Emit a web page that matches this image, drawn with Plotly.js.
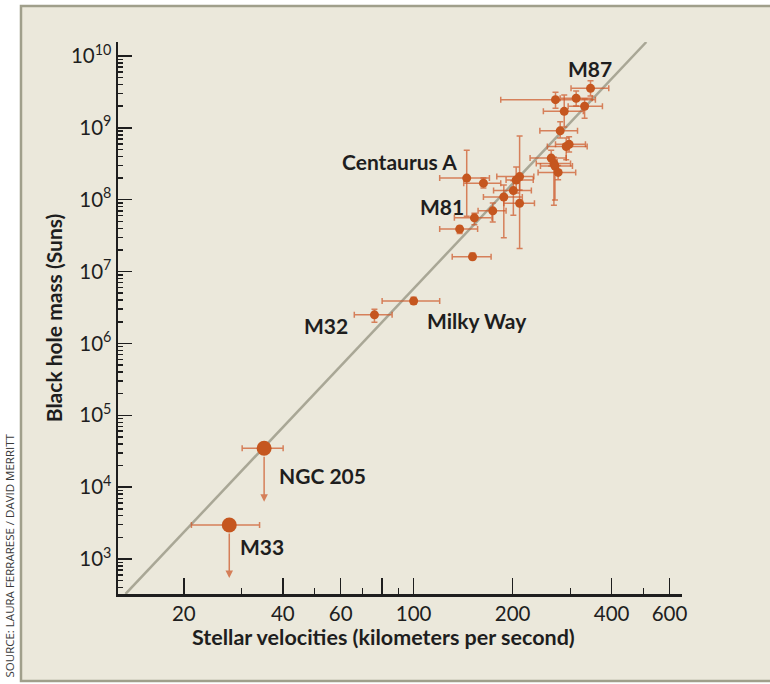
<!DOCTYPE html>
<html>
<head>
<meta charset="utf-8">
<script src="https://cdn.plot.ly/plotly-3.0.1.min.js"></script>
<style>
  html, body { margin: 0; padding: 0; background: #ffffff; }
  #chart { width: 770px; height: 684px; }
</style>
</head>
<body>
<div id="chart"></div>
<script>
// ---- Data ----
// Galaxies with measured black-hole masses
const galaxyNames = ["M87", "", "", "", "", "", "", "", "", "", "", "",
  "Centaurus A", "", "", "", "", "", "", "", "", "M81", "", "Milky Way", "M32"];
const sigma   = [345, 270, 312, 331, 287, 279, 291, 297, 262, 267, 269, 275,
  145, 163, 210, 205, 201, 188, 210, 174, 153, 138, 151, 100, 76];
const sigmaLo = [301, 184, 279, 295, 248, 242, 255, 270, 226, 236, 243, 239,
  120, 142, 179, 191, 175, 163, 188, 157, 133, 120, 131, 80.2, 66];
const sigmaHi = [392, 357, 349, 375, 328, 315, 337, 333, 291, 300, 304, 311,
  170, 184, 232, 231, 228, 214, 233, 191, 173, 156.5, 172, 120, 86];
const mass    = [3.55e9, 2.47e9, 2.58e9, 2.0e9, 1.70e9, 9.1e8, 5.5e8, 5.9e8, 3.8e8, 3.2e8, 2.95e8, 2.4e8,
  2.0e8, 1.7e8, 2.1e8, 1.88e8, 1.34e8, 1.09e8, 8.9e7, 7.0e7, 5.6e7, 3.9e7, 1.61e7, 3.9e6, 2.5e6];
const massLo  = [2.77e9, 1.87e9, 2.01e9, 1.36e9, 1.03e9, 7.2e8, 3.6e8, 4.6e8, 2.95e8, 8.4e7, 9.9e7, 1.9e8,
  5.9e7, 1.46e8, 1.37e8, 1.24e8, 6.1e7, 2.96e7, 2.1e7, 4.9e7, 4.5e7, 3.4e7, 1.47e7, 3.5e6, 1.97e6];
const massHi  = [4.53e9, 3.13e9, 3.26e9, 2.52e9, 2.87e9, 1.22e9, 7.2e8, 7.5e8, 4.9e8, 3.9e8, 3.6e8, 3.0e8,
  4.9e8, 2.0e8, 7.7e8, 2.85e8, 1.84e8, 1.6e8, 1.88e8, 9.0e7, 6.5e7, 4.3e7, 1.81e7, 4.4e6, 2.99e6];

// Galaxies with upper limits only
const limitNames   = ["NGC 205", "M33"];
const limitSigma   = [35.1, 27.5];
const limitSigmaLo = [30.1, 21.1];
const limitSigmaHi = [40.1, 34.0];
const limitMass    = [3.47e4, 2.97e3];
const limitMassTo  = [6.27e3, 544];

// Best-fit relation (end points)
const fitSigma = [13.3, 510];
const fitMass  = [326, 1.567e10];

// Axis ticks
const xTickVals  = [20, 40, 60, 80, 100, 200, 400, 600];
const xTickText  = ["20", "40", "60", "", "100", "200", "400", "600"];
const xMinorVals = [30, 50, 70, 90, 300, 500];
const yTickVals  = [1e3, 1e4, 1e5, 1e6, 1e7, 1e8, 1e9, 1e10];
const yTickText  = ["10<sup>3</sup>", "10<sup>4</sup>", "10<sup>5</sup>", "10<sup>6</sup>",
                    "10<sup>7</sup>", "10<sup>8</sup>", "10<sup>9</sup>", "10<sup>10</sup>"];

// ---- Styles ----
const FONT = "Lato, 'Open Sans', 'DejaVu Sans', sans-serif";
const INK = "#1e1e1e";
const DOT = "#c5561f";
const BAR = "rgba(205,88,40,0.72)";
const LINE = "#a9a796";

// label offsets in pixels relative to the point they name
const labelOffsets = {
  "M87": [-1, 20], "Centaurus A": [-67, 17], "M81": [-18, 23],
  "Milky Way": [63, -20], "M32": [-48, -11], "NGC 205": [58, -27], "M33": [33, -21]
};

const diff = (a, b) => a.map((v, i) => v - b[i]);

const traces = [
  {
    x: fitSigma, y: fitMass, mode: "lines", type: "scatter",
    line: { color: LINE, width: 2.5 }, hoverinfo: "skip", showlegend: false
  },
  {
    x: sigma, y: mass, mode: "markers", type: "scatter", showlegend: false,
    text: galaxyNames,
    marker: { color: DOT, size: 9 },
    error_x: { type: "data", symmetric: false, array: diff(sigmaHi, sigma), arrayminus: diff(sigma, sigmaLo),
               color: BAR, thickness: 1.5, width: 3 },
    error_y: { type: "data", symmetric: false, array: diff(massHi, mass), arrayminus: diff(mass, massLo),
               color: BAR, thickness: 1.5, width: 3 }
  },
  {
    x: limitSigma, y: limitMass, mode: "markers", type: "scatter", showlegend: false,
    text: limitNames,
    marker: { color: DOT, size: 15 },
    error_x: { type: "data", symmetric: false, array: diff(limitSigmaHi, limitSigma), arrayminus: diff(limitSigma, limitSigmaLo),
               color: BAR, thickness: 1.5, width: 3 }
  }
];

const annotations = [];
// upper-limit arrows
limitSigma.forEach((s, i) => {
  annotations.push({
    xref: "x", yref: "y", axref: "x", ayref: "y",
    x: Math.log10(s), y: Math.log10(limitMassTo[i]),
    ax: Math.log10(s), ay: Math.log10(limitMass[i]),
    text: "", showarrow: true, arrowhead: 2, arrowsize: 1, arrowwidth: 1.5,
    arrowcolor: BAR, startstandoff: 7, standoff: 0
  });
});
// galaxy labels
const addLabel = (name, s, m) => {
  if (!name) return;
  const off = labelOffsets[name] || [0, 0];
  annotations.push({
    xref: "x", yref: "y", x: Math.log10(s), y: Math.log10(m),
    xshift: off[0], yshift: off[1], showarrow: false, text: name,
    xanchor: "center", yanchor: "middle",
    font: { family: FONT, size: 21, color: INK, weight: 700 }
  });
};
galaxyNames.forEach((n, i) => addLabel(n, sigma[i], mass[i]));
limitNames.forEach((n, i) => addLabel(n, limitSigma[i], limitMass[i]));
// x-axis title (placed slightly left of centre, as in the original)
annotations.push({
  xref: "paper", yref: "paper", x: 0.4716, y: -0.078, xanchor: "center", yanchor: "middle",
  showarrow: false, text: "Stellar velocities (kilometers per second)",
  font: { family: FONT, size: 21.5, color: INK, weight: 700 }
});
// source credit
annotations.push({
  xref: "paper", yref: "paper", x: -0.193, y: 0.07, xanchor: "center", yanchor: "middle",
  textangle: -90, showarrow: false, text: "SOURCE: LAURA FERRARESE / DAVID MERRITT",
  font: { family: "'Open Sans', sans-serif", size: 11.5, color: "#3a3a3a" }
});

const axisCommon = {
  type: "log", showline: true, linewidth: 2.5, linecolor: INK,
  ticks: "inside", tickwidth: 1.5, tickcolor: INK, tickmode: "array",
  showgrid: false, zeroline: false, automargin: false,
  tickfont: { family: FONT, size: 20.5, color: INK }
};

const layout = {
  width: 770, height: 684,
  margin: { l: 118, r: 88, t: 42, b: 90, pad: 0 },
  paper_bgcolor: "#ffffff", plot_bgcolor: "rgba(0,0,0,0)",
  font: { family: FONT, color: INK },
  showlegend: false,
  xaxis: Object.assign({}, axisCommon, {
    range: [1.101, 2.816], ticklen: 16,
    tickvals: xTickVals, ticktext: xTickText,
    minor: { tickmode: "array", tickvals: xMinorVals, ticks: "inside", ticklen: 6, tickwidth: 1.5, tickcolor: INK, showgrid: false }
  }),
  yaxis: Object.assign({}, axisCommon, {
    range: [2.513, 10.195], ticklen: 14,
    tickvals: yTickVals, ticktext: yTickText,
    minor: { dtick: "D1", ticks: "inside", ticklen: 5, tickwidth: 1.5, tickcolor: INK, showgrid: false },
    title: { text: "Black hole mass (Suns)", standoff: 3,
             font: { family: FONT, size: 21, color: INK, weight: 700 } }
  }),
  shapes: [{
    type: "rect", xref: "paper", yref: "paper", layer: "below",
    x0: -0.172, x1: 1.17, y0: -0.1576, y1: 1.0652,
    fillcolor: "#ebe8db", line: { color: "#a09f8b", width: 2.5 }
  }],
  annotations: annotations
};

Plotly.newPlot("chart", traces, layout, { displayModeBar: false, staticPlot: true });
</script>
</body>
</html>
